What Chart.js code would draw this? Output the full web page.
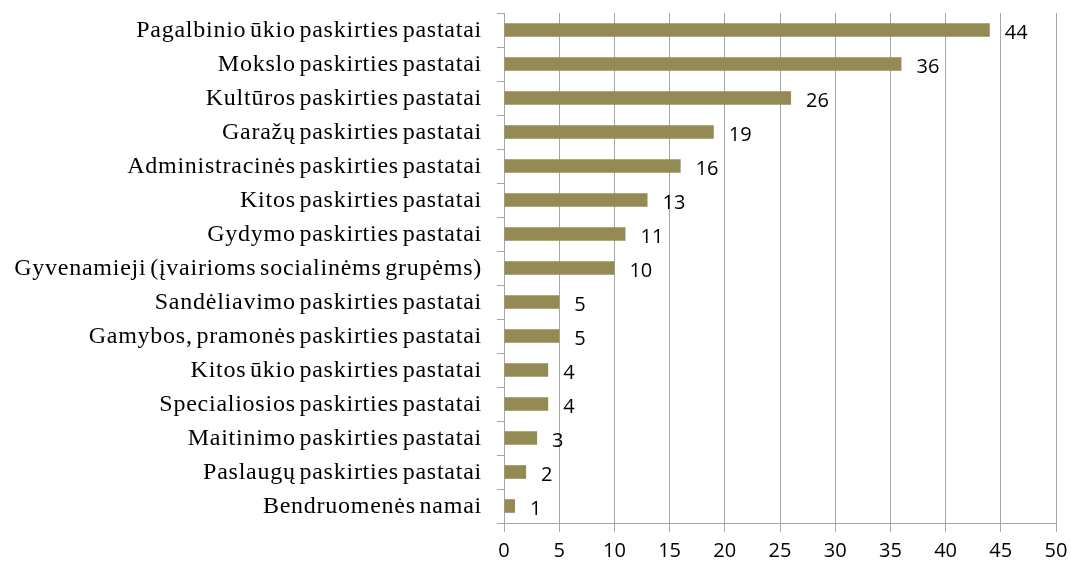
<!DOCTYPE html>
<html><head><meta charset="utf-8">
<script src="https://cdn.jsdelivr.net/npm/chart.js@4/dist/chart.umd.min.js"></script>
<style>html,body{margin:0;padding:0;background:#fff;}canvas{display:block;}</style>
</head><body>
<canvas id="c" width="1071" height="566"></canvas>
<script>
const categories = [
  "Pagalbinio ūkio paskirties pastatai",
  "Mokslo paskirties pastatai",
  "Kultūros paskirties pastatai",
  "Garažų paskirties pastatai",
  "Administracinės paskirties pastatai",
  "Kitos paskirties pastatai",
  "Gydymo paskirties pastatai",
  "Gyvenamieji (įvairioms socialinėms grupėms)",
  "Sandėliavimo paskirties pastatai",
  "Gamybos, pramonės paskirties pastatai",
  "Kitos ūkio paskirties pastatai",
  "Specialiosios paskirties pastatai",
  "Maitinimo paskirties pastatai",
  "Paslaugų paskirties pastatai",
  "Bendruomenės namai"
];
const values = [44, 36, 26, 19, 16, 13, 11, 10, 5, 5, 4, 4, 3, 2, 1];
const xTicks = [0, 5, 10, 15, 20, 25, 30, 35, 40, 45, 50];

const textPlugin = {
  id: 'textPlugin',
  afterDraw(chart) {
    const ctx = chart.ctx;
    const meta = chart.getDatasetMeta(0);
    const yScale = chart.scales.y;
    ctx.save();
    ctx.font = '24px "Liberation Serif", "Times New Roman", serif';
    ctx.fillStyle = '#000';
    ctx.textAlign = 'right';
    ctx.textBaseline = 'middle';
    try { ctx.letterSpacing = '0.75px'; ctx.wordSpacing = '-3px'; } catch (e) {}
    categories.forEach((c, i) => {
      ctx.fillText(c, yScale.right - 22, yScale.getPixelForValue(i) + 1);
    });
    try { ctx.letterSpacing = '0px'; ctx.wordSpacing = '0px'; } catch (e) {}
    ctx.font = '20px "Open Sans", sans-serif';
    ctx.textAlign = 'left';
    meta.data.forEach((bar, i) => {
      ctx.fillText(String(values[i]), bar.x + 15, bar.y + 3);
    });
    ctx.restore();
  }
};

new Chart(document.getElementById('c'), {
  type: 'bar',
  data: {
    labels: categories,
    datasets: [{
      data: values,
      backgroundColor: '#948A54',
      borderWidth: 0,
      barPercentage: 0.8,
      categoryPercentage: 0.5
    }]
  },
  options: {
    indexAxis: 'y',
    responsive: false,
    animation: false,
    devicePixelRatio: 1,
    layout: { padding: { top: 13, right: 15, left: 0, bottom: 0 } },
    plugins: { legend: { display: false }, tooltip: { enabled: false } },
    scales: {
      x: {
        min: 0, max: 50,
        afterBuildTicks(axis) { axis.ticks = xTicks.map(v => ({ value: v })); },
        grid: { color: '#A6A6A6', lineWidth: 1, tickLength: 9, drawTicks: true },
        border: { color: '#A6A6A6' },
        ticks: {
          font: { family: '"Open Sans", sans-serif', size: 20 },
          color: '#000',
          padding: 7,
          maxRotation: 0
        },
        afterFit(axis) { axis.height = 43; axis.paddingRight = 0; axis.paddingLeft = 0; }
      },
      y: {
        grid: { drawOnChartArea: false, color: '#A6A6A6', tickLength: 7, offset: true },
        border: { color: '#A6A6A6' },
        ticks: { display: false, autoSkip: false },
        afterFit(axis) { axis.width = 504; }
      }
    }
  },
  plugins: [textPlugin]
});
</script>
</body></html>
